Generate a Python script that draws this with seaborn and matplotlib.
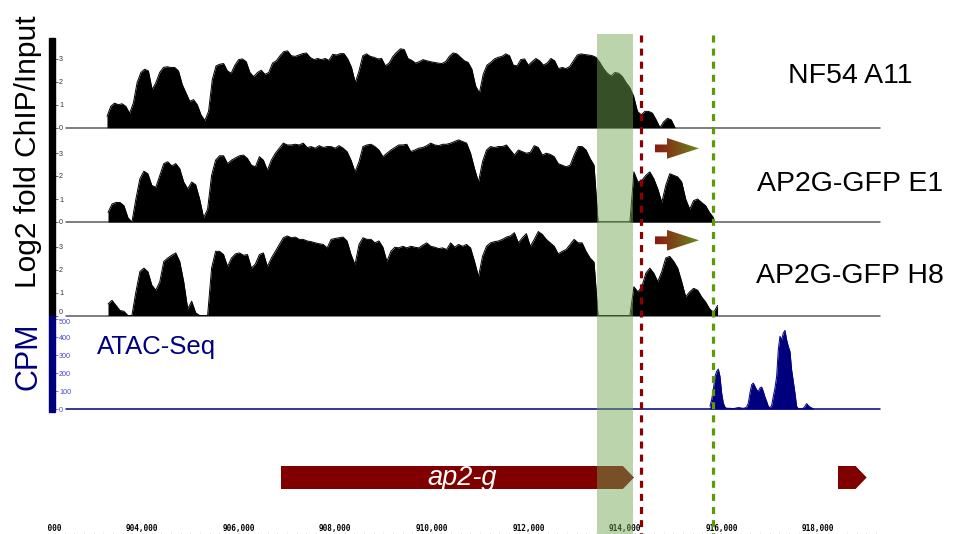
import numpy as np
import matplotlib
matplotlib.use("Agg")
import matplotlib.pyplot as plt
import seaborn as sns
from matplotlib.colors import LinearSegmentedColormap
from matplotlib.patches import Polygon, Rectangle

# ---------------- data ----------------
chip_labels = ["NF54 A11", "AP2G-GFP E1", "AP2G-GFP H8"]

nf54_start, nf54_step = 903275, 77.9
nf54_log2 = [
    0.49, 0.93, 1.07, 1.0, 1.04, 0.93, 0.63, 1.07, 1.96, 2.4,
    2.54, 2.47, 1.66, 1.96, 2.4, 2.62, 2.65, 2.62, 2.62, 2.47,
    1.88, 1.51, 1.15, 1.22, 1.0, 0.56, 0.31, 0.71, 2.1, 2.69,
    2.76, 2.79, 2.47, 2.37, 2.72, 2.96, 2.99, 2.87, 2.4, 2.22,
    2.4, 2.5, 2.32, 2.4, 2.81, 2.91, 3.13, 3.31, 3.34, 3.13,
    3.1, 3.16, 3.22, 3.25, 3.06, 2.96, 3.01, 2.96, 3.01, 2.93,
    3.19, 3.16, 3.22, 3.22, 2.99, 2.62, 1.96, 2.47, 3.13, 3.21,
    3.1, 3.06, 2.99, 3.01, 2.69, 2.81, 3.1, 3.28, 3.43, 3.4,
    3.01, 2.93, 2.81, 2.87, 2.96, 2.91, 2.87, 2.84, 2.81, 2.79,
    2.87, 3.1, 3.25, 3.21, 3.06, 2.91, 2.84, 2.54, 1.81, 1.51,
    2.32, 2.72, 2.84, 2.99, 3.06, 3.1, 3.21, 3.13, 2.72, 2.69,
    2.96, 2.99, 2.72, 2.87, 3.01, 2.91, 2.72, 2.81, 3.01, 2.91,
    2.57, 2.62, 2.57, 2.66, 2.91, 3.16, 3.21, 3.18, 3.16, 3.13,
    3.06, 2.84, 2.57, 2.37, 2.25, 2.4, 2.37, 2.22, 1.96, 1.74,
    1.37, 0.71, 0.56, 0.71, 0.71, 0.63, 0.34, 0.0, 0.26, 0.41,
    0.34, 0.0,
]

e1_start, e1_step = 903296, 82.5
e1_log2 = [
    0.41, 0.78, 0.85, 0.85, 0.71, 0.19, 0.0, 1.0, 1.88, 2.21,
    2.1, 1.59, 1.51, 2.03, 2.54, 2.62, 2.44, 2.54, 2.32, 1.74,
    1.44, 1.74, 1.62, 1.0, 0.19, 0.56, 2.03, 2.69, 2.88, 2.88,
    2.54, 2.69, 2.79, 2.88, 2.91, 2.76, 2.47, 2.4, 2.84, 2.69,
    2.25, 2.69, 2.99, 3.21, 3.43, 3.35, 3.35, 3.38, 3.35, 3.43,
    3.24, 3.28, 3.21, 3.32, 3.24, 3.28, 3.28, 3.21, 3.32, 3.21,
    3.06, 2.69, 2.18, 2.62, 3.28, 3.35, 3.38, 3.28, 3.13, 2.84,
    2.99, 3.13, 3.24, 3.35, 3.35, 3.38, 3.06, 3.13, 3.21, 3.24,
    3.32, 3.43, 3.35, 3.32, 3.38, 3.38, 3.43, 3.5, 3.57, 3.5,
    3.43, 2.99, 2.32, 1.74, 2.62, 3.13, 3.28, 3.24, 3.28, 3.28,
    3.35, 3.13, 2.91, 3.13, 3.06, 2.99, 3.03, 3.32, 3.24, 2.91,
    2.99, 2.94, 2.84, 2.54, 2.47, 2.4, 2.47, 2.91, 3.28, 3.28,
    3.13, 2.76, 2.47, 0.0, 0.0, 0.0, 0.0, 0.0, 0.0, 0.0,
    0.0, 0.0, 2.18, 1.74, 1.81, 2.03, 2.18, 1.88, 1.44, 0.85,
    1.59, 2.1, 2.03, 1.96, 1.74, 1.0, 0.56, 0.93, 1.0, 0.85,
    0.71, 0.41, 0.19,
]

h8_start, h8_step = 903296, 82.5
h8_log2 = [
    0.5, 0.66, 0.44, 0.22, 0.18, 0.0, 0.0, 1.03, 1.91, 2.06,
    1.91, 1.32, 1.1, 1.47, 2.35, 2.5, 2.62, 2.72, 2.35, 1.47,
    0.29, 0.62, 0.12, 0.0, 0.0, 0.0, 2.06, 2.79, 2.79, 2.65,
    2.13, 2.5, 2.68, 2.72, 2.62, 2.65, 2.06, 2.24, 2.65, 2.72,
    2.13, 2.5, 2.79, 3.09, 3.38, 3.46, 3.38, 3.41, 3.31, 3.31,
    3.24, 3.21, 3.16, 3.12, 3.09, 2.94, 3.31, 3.35, 3.38, 3.41,
    3.24, 2.65, 2.21, 3.09, 3.38, 3.31, 3.31, 3.16, 3.24, 2.97,
    2.35, 2.79, 2.97, 2.94, 3.01, 2.94, 3.01, 2.97, 2.94, 3.06,
    3.16, 3.01, 2.97, 2.91, 2.94, 2.87, 3.16, 2.97, 3.09, 3.01,
    3.09, 2.94, 2.35, 1.69, 2.57, 3.01, 3.16, 3.21, 3.24, 3.31,
    3.41, 3.46, 3.6, 3.16, 3.38, 3.56, 3.01, 3.31, 3.65, 3.53,
    3.31, 3.16, 3.01, 2.68, 2.79, 2.87, 3.09, 3.31, 3.16, 3.16,
    2.79, 2.5, 2.32, 0.0, 0.0, 0.0, 0.0, 0.0, 0.0, 0.0,
    0.0, 0.0, 1.25, 1.03, 1.25, 1.84, 2.06, 1.84, 1.47, 1.91,
    2.5, 2.57, 2.35, 2.06, 1.47, 0.81, 1.03, 1.18, 1.1, 0.81,
    0.59, 0.29, 0.12, 0.44,
]

atac_start, atac_step = 915762, 34.5
atac_cpm = [
    15, 52, 107, 181, 209, 222, 181, 89, 33, 11,
    4, 4, 4, 3, 2, 4, 6, 8, 7, 5,
    4, 6, 11, 33, 89, 135, 144, 126, 107, 98,
    117, 122, 98, 67, 43, 15, 7, 19, 70, 117,
    181, 330, 404, 385, 422, 437, 385, 348, 320, 218,
    154, 89, 15, 2, 2, 3, 4, 15, 30, 19,
    11, 6, 2,
]

gene_names = ["ap2-g", ""]
gene_starts = [906878, 918413]
gene_ends = [914188, 919007]

highlight_region = [913422, 914168]
motif_lines = [914333, 915822]
motif_colors = ["#8b0000", "#5c9a06"]
tss_arrow = [914623, 914872, 915535]   # shaft start, head start, tip

ruler_ticks = [902000, 904000, 906000, 908000, 910000, 912000, 914000, 916000, 918000]
chip_yticks = [0, 1, 2, 3]
atac_yticks = [0, 100, 200, 300, 400, 500]

# ---------------- style ----------------
sns.set_theme(style="white")
plt.rcParams["font.family"] = ["Liberation Sans", "DejaVu Sans"]

W, H = 956, 534
fig = plt.figure(figsize=(W / 100, H / 100), dpi=100)
fig.patch.set_facecolor("white")

PX_PER_BP, REF_PX, REF_BP = 0.04829, 142.0, 904000.0


def bp(px):
    return REF_BP + (px - REF_PX) / PX_PER_BP


def add_ax(x0, y0, x1, y1, **kw):
    return fig.add_axes([x0 / W, 1 - y1 / H, (x1 - x0) / W, (y1 - y0) / H], **kw)


NAVY = "#00007f"
CHIP_TOP = 93 / 23.0
ATAC_TOP = 93 / 0.18

arrow_cmap = LinearSegmentedColormap.from_list("tss", ["#8a1812", "#6a8a1c"])


def gradient_arrow(ax, xs, yc, hs, hh):
    x0, x1, x2 = xs
    verts = [(x0, yc - hs), (x1, yc - hs), (x1, yc - hh), (x2, yc),
             (x1, yc + hh), (x1, yc + hs), (x0, yc + hs)]
    poly = Polygon(verts, closed=True, facecolor="none", edgecolor="none")
    ax.add_patch(poly)
    grad = np.linspace(0, 1, 256).reshape(1, -1)
    im = ax.imshow(grad, extent=[x0, x2, yc - hh, yc + hh], aspect="auto",
                   cmap=arrow_cmap, origin="lower", zorder=6, interpolation="bilinear")
    im.set_clip_path(poly)


def scale_axis(y0, y1, ylim_top, ticks, color):
    axs = add_ax(54.5, y0, 54.8, y1)
    axs.set_ylim(0, ylim_top)
    axs.yaxis.tick_right()
    axs.set_yticks(ticks)
    axs.set_yticklabels([str(t) for t in ticks])
    axs.set_xticks([])
    axs.tick_params(axis="y", length=2.5, width=0.5, pad=0.6, labelsize=5.2, colors=color)
    for s in axs.spines.values():
        s.set_visible(False)
    axs.patch.set_alpha(0)
    return axs


tracks = [
    (nf54_start, nf54_step, nf54_log2, 127.7),
    (e1_start, e1_step, e1_log2, 222.0),
    (h8_start, h8_step, h8_log2, 315.5),
]
label_y = [76, 184, 276]
arrow_y = [None, 3.2, 3.27]

for i, (st, sp, vals, base) in enumerate(tracks):
    top = base - 93
    ax = add_ax(66, top, 880, base)
    x = st + sp * np.arange(len(vals))
    v = np.array(vals)
    ax.fill_between(x, v, color="black", lw=0, zorder=2)
    sns.lineplot(x=x, y=v, ax=ax, color="black", lw=0.7, zorder=2)
    ax.axhline(0, color="#5a5a5a", lw=1.1, clip_on=False, zorder=1)
    if arrow_y[i] is not None:
        gradient_arrow(ax, tss_arrow, arrow_y[i], 0.17, 0.45)
    ax.set_xlim(bp(66), bp(880))
    ax.set_ylim(0, CHIP_TOP)
    ax.axis("off")
    axs = scale_axis(top, base, CHIP_TOP, chip_yticks, "#333333")
    if i == len(tracks) - 1:
        axs.get_yticklabels()[0].set_va("bottom")
    fig.text(850 / W, 1 - label_y[i] / H, chip_labels[i], ha="center", va="center",
             fontsize=20.5, color="black")

# ATAC
ax = add_ax(66, 316, 880, 409)
xa = atac_start + atac_step * np.arange(len(atac_cpm))
ya = np.array(atac_cpm, dtype=float)
ax.fill_between(xa, ya, color=NAVY, lw=0, zorder=2)
sns.lineplot(x=xa, y=ya, ax=ax, color=NAVY, lw=0.7, zorder=2)
ax.axhline(0, color=NAVY, lw=1.1, clip_on=False, zorder=1)
ax.set_xlim(bp(66), bp(880))
ax.set_ylim(0, ATAC_TOP)
ax.axis("off")
axs = scale_axis(316, 409, ATAC_TOP, atac_yticks, "#4646d2")
axs.get_yticklabels()[-1].set_va("top")
fig.text(97 / W, 1 - 347 / H, "ATAC-Seq", ha="left", va="center", fontsize=18.5, color=NAVY)

# y scale bars
fig.patches.append(Rectangle((49 / W, 1 - 316 / H), 5.5 / W, (316 - 38) / H,
                             transform=fig.transFigure, color="black", zorder=3))
fig.patches.append(Rectangle((49 / W, 1 - 412 / H), 5.5 / W, (412 - 316) / H,
                             transform=fig.transFigure, color=NAVY, zorder=3))

fig.text(28 / W, 1 - 152 / H, "Log2 fold ChIP/Input", rotation=90, ha="center",
         va="center", fontsize=21.5, color="black")
fig.text(28 / W, 1 - 356 / H, "CPM", rotation=90, ha="center", va="center",
         fontsize=22, color=NAVY)

# genes
axg = add_ax(66, 455, 880, 500)
axg.set_xlim(bp(66), bp(880))
axg.set_ylim(500, 455)
axg.axis("off")
head = 230
for name, s, e in zip(gene_names, gene_starts, gene_ends):
    verts = [(s, 466), (e - head, 466), (e, 477.5), (e - head, 489), (s, 489)]
    axg.add_patch(Polygon(verts, closed=True, facecolor="#800000", edgecolor="none"))
    if name:
        axg.text((s + e) / 2 + 90, 478, name, ha="center", va="center", color="white",
                 fontsize=19.5, fontstyle="italic")

# ruler
axr = add_ax(48, 515, 880, 534)
axr.set_xlim(bp(48), bp(880))
axr.set_ylim(0, 1)
axr.axis("off")
for t in ruler_ticks:
    axr.text(t, 0.27, f"{t:,}", ha="center", va="center", fontsize=5.6,
             fontfamily="DejaVu Sans Mono", fontweight="bold", color="black", clip_on=True)
minor = np.arange(902200, 919300, 200)
axr.vlines(minor, 0, 0.07, colors="#b0b0b0", lw=0.5)

# overlay highlight + motif lines
ov = fig.add_axes([0, 0, 1, 1])
ov.set_xlim(bp(0), bp(W))
ov.set_ylim(H, 0)
ov.axis("off")
ov.patch.set_alpha(0)
ov.axvspan(highlight_region[0], highlight_region[1], ymin=0, ymax=(H - 34) / H,
           color="#73a753", alpha=0.48, lw=0, zorder=5)
for xm, c in zip(motif_lines, motif_colors):
    ov.vlines(xm, 35, H, colors=c, lw=2.3, linestyles=(0, (2.2, 1.9)), zorder=6)

fig.savefig("out.png", dpi=100)
